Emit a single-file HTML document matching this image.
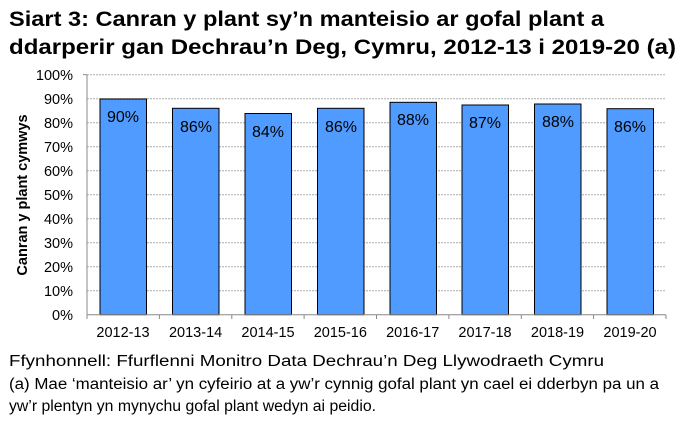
<!DOCTYPE html><html><head><style>body{margin:0;background:#fff}</style></head><body>
<svg width="690" height="426" xmlns="http://www.w3.org/2000/svg" font-family="Liberation Sans, Arial, sans-serif">
<text x="9" y="26" font-size="21" font-weight="bold" textLength="595" lengthAdjust="spacingAndGlyphs">Siart 3: Canran y plant sy’n manteisio ar gofal plant a</text>
<text x="9" y="54" font-size="21" font-weight="bold" textLength="667" lengthAdjust="spacingAndGlyphs">ddarperir gan Dechrau’n Deg, Cymru, 2012-13 i 2019-20 (a)</text>
<g stroke="#aaa" stroke-dasharray="2,1" stroke-width="1">
<line x1="87" x2="666" y1="74.7" y2="74.7"/><line x1="87" x2="666" y1="98.7" y2="98.7"/><line x1="87" x2="666" y1="122.7" y2="122.7"/><line x1="87" x2="666" y1="146.7" y2="146.7"/><line x1="87" x2="666" y1="170.7" y2="170.7"/><line x1="87" x2="666" y1="194.7" y2="194.7"/><line x1="87" x2="666" y1="218.7" y2="218.7"/><line x1="87" x2="666" y1="242.7" y2="242.7"/><line x1="87" x2="666" y1="266.7" y2="266.7"/><line x1="87" x2="666" y1="290.7" y2="290.7"/>
</g>
<g font-size="14.5" text-anchor="end" fill="#000">
<text x="73" y="80">100%</text><text x="73" y="104">90%</text><text x="73" y="128">80%</text><text x="73" y="152">70%</text><text x="73" y="176">60%</text><text x="73" y="200">50%</text><text x="73" y="224">40%</text><text x="73" y="248">30%</text><text x="73" y="272">20%</text><text x="73" y="296">10%</text><text x="73" y="320">0%</text>
</g>
<text transform="translate(27,195) rotate(-90)" font-size="14.5" font-weight="bold" text-anchor="middle">Canran y plant cymwys</text>
<g fill="#4f9bff" stroke="#000" stroke-width="1">
<rect x="100" y="99" width="46.5" height="215.7"/>
<rect x="172.5" y="108.3" width="46.5" height="206.4"/>
<rect x="245" y="113.5" width="46.5" height="201.2"/>
<rect x="317.5" y="108.3" width="46.5" height="206.4"/>
<rect x="390" y="102.3" width="46.5" height="212.4"/>
<rect x="462" y="105" width="46.5" height="209.7"/>
<rect x="534.5" y="104" width="46.5" height="210.7"/>
<rect x="607" y="108.7" width="46.5" height="206"/>
</g>
<g font-size="16" text-anchor="middle">
<text x="123" y="122">90%</text><text x="196" y="132">86%</text><text x="268" y="137">84%</text><text x="341" y="132">86%</text><text x="413" y="125">88%</text><text x="485" y="128">87%</text><text x="558" y="127">88%</text><text x="630" y="132">86%</text>
</g>
<g stroke="#888" stroke-width="1">
<line x1="87" x2="87" y1="74.7" y2="314.7"/><line x1="83" x2="87" y1="74.7" y2="74.7"/>
<line x1="87" x2="666" y1="314.7" y2="314.7"/>
<line x1="87" x2="87" y1="314.7" y2="319"/><line x1="159.4" x2="159.4" y1="314.7" y2="319"/><line x1="231.8" x2="231.8" y1="314.7" y2="319"/><line x1="304.1" x2="304.1" y1="314.7" y2="319"/><line x1="376.5" x2="376.5" y1="314.7" y2="319"/><line x1="448.9" x2="448.9" y1="314.7" y2="319"/><line x1="521.3" x2="521.3" y1="314.7" y2="319"/><line x1="593.6" x2="593.6" y1="314.7" y2="319"/><line x1="666" x2="666" y1="314.7" y2="319"/>
</g>
<g font-size="14.5" text-anchor="middle">
<text x="123" y="337">2012-13</text><text x="195.6" y="337">2013-14</text><text x="268" y="337">2014-15</text><text x="340.3" y="337">2015-16</text><text x="412.7" y="337">2016-17</text><text x="485" y="337">2017-18</text><text x="557.5" y="337">2018-19</text><text x="630" y="337">2019-20</text>
</g>
<g font-size="15.5">
<text x="9" y="366" textLength="595" lengthAdjust="spacingAndGlyphs">Ffynhonnell: Ffurflenni Monitro Data Dechrau’n Deg Llywodraeth Cymru</text>
<text x="9" y="389" textLength="650" lengthAdjust="spacingAndGlyphs">(a)  Mae ‘manteisio ar’ yn cyfeirio at a yw’r cynnig gofal plant yn cael ei dderbyn pa un a</text>
<text x="9" y="411" textLength="367" lengthAdjust="spacingAndGlyphs">yw’r plentyn yn mynychu gofal plant wedyn ai peidio.</text>
</g>
</svg></body></html>
